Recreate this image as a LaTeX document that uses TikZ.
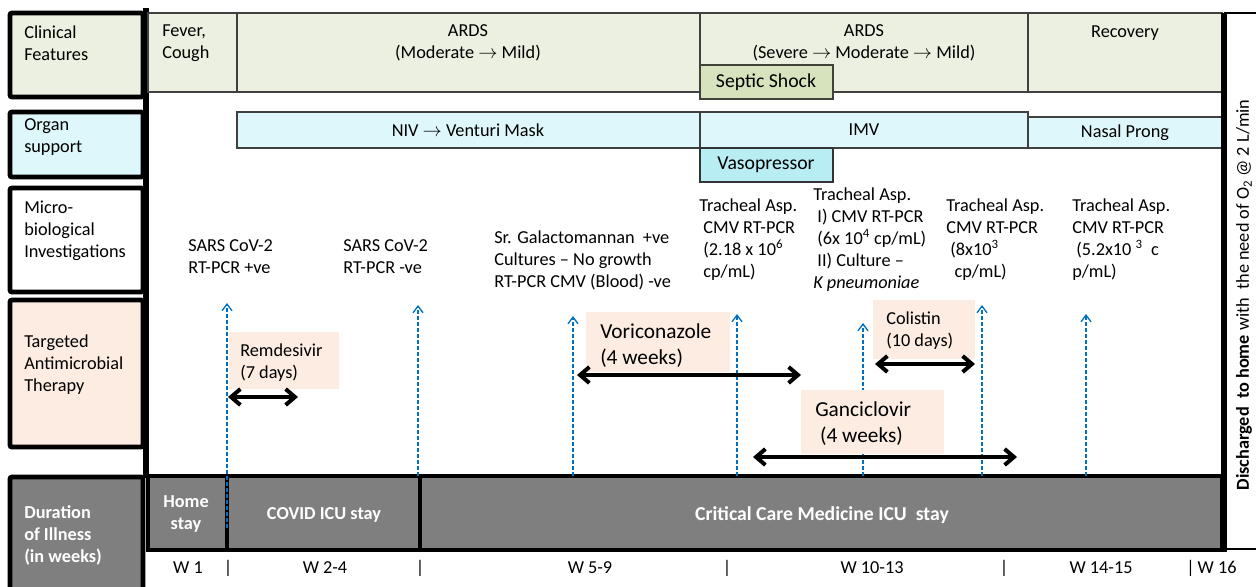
\documentclass[tikz,border=0pt]{standalone}
\usepackage{fontspec}
\setmainfont{Carlito}
\usetikzlibrary{arrows.meta,positioning}
\definecolor{featuregreen}{RGB}{235,240,224}
\definecolor{shockgreen}{RGB}{214,227,188}
\definecolor{supportcyan}{RGB}{222,247,250}
\definecolor{pressorcyan}{RGB}{184,237,243}
\definecolor{therapypeach}{RGB}{252,236,226}
\definecolor{staygray}{RGB}{127,127,127}
\definecolor{sampleblue}{RGB}{0,112,192}
\newcommand{\bodyfont}{\fontsize{13.7}{16.5}\selectfont}
\newcommand{\bigfont}{\fontsize{16}{18.8}\selectfont}
\newcommand{\tagfont}{\fontsize{14.8}{17}\selectfont}

\begin{document}
\begin{tikzpicture}[x=0.75pt,y=-0.75pt,
  headbox/.style={draw=black,line width=3.6pt,rounded corners=1.5pt},
  cellbox/.style={draw=black!75,line width=1.1pt},
  txt/.style={inner sep=0pt,align=left,font=\bodyfont,anchor=base west},
  ctxt/.style={inner sep=0pt,align=center,font=\bodyfont},
  wtxt/.style={txt,text=white,font=\bodyfont\bfseries},
  sampleline/.style={sampleblue,line width=1pt,dash pattern=on 3pt off 1.5pt,
    -{Straight Barb[length=5pt,width=7.5pt,line width=1pt]}},
  course/.style={line width=3pt,
    {Straight Barb[length=7pt,width=12pt]}-{Straight Barb[length=7pt,width=12pt]}},
  drugbox/.style={fill=therapypeach}]
\useasboundingbox (0,0) rectangle (1256,586);
% Kolumna z nazwami wierszy (kotwica: linia bazowa ostatniego wiersza)
\filldraw[headbox,fill=featuregreen] (10,13) rectangle (143,97);
\filldraw[headbox,fill=supportcyan] (10,112) rectangle (143,177);
\filldraw[headbox,fill=white] (10,188) rectangle (143,292);
\filldraw[headbox,fill=therapypeach] (10,300) rectangle (143,447);
\filldraw[headbox,fill=staygray] (10,477) rectangle (143,600);
\draw[line width=4pt] (146,8) -- (146,478);
\node[txt] (hclin) at (24,60) {Clinical\\Features};
\node[txt] (horgan) at (24,152) {Organ\\support};
\node[txt] (hmicro) at (24,257) {Micro-\\biological\\Investigations};
\node[txt] (htarget) at (24,391) {Targeted\\Antimicrobial\\Therapy};
\node[wtxt] (hweeks) at (24,562) {Duration\\of Illness\\(in weeks)};
% Objawy kliniczne
\filldraw[cellbox,fill=featuregreen] (148,13) rectangle (237,92);
\filldraw[cellbox,fill=featuregreen] (237,13) rectangle (700,92);
\filldraw[cellbox,fill=featuregreen] (700,13) rectangle (1028,92);
\filldraw[cellbox,fill=featuregreen] (1028,13) rectangle (1222,92);
\filldraw[fill=shockgreen,draw=black!70!shockgreen,line width=1.6pt] (700,65) rectangle (833,99);
\node[txt] (fever) at (162,58) {Fever,\\Cough};
\node[ctxt,anchor=base] (ards1) at (468,58) {ARDS\\(Moderate $\rightarrow$ Mild)};
\node[ctxt,anchor=base] (ards2) at (864,58) {ARDS\\(Severe $\rightarrow$ Moderate $\rightarrow$ Mild)};
\node[ctxt,anchor=base] (recov) at (1125,37) {Recovery};
\node[ctxt,font=\tagfont] (shock) at (766,82) {Septic Shock};
% Wsparcie narządowe
\filldraw[cellbox,fill=supportcyan] (237,112) rectangle (700,148);
\filldraw[cellbox,fill=supportcyan] (700,112) rectangle (1028,148);
\filldraw[cellbox,fill=supportcyan] (1028,117) rectangle (1222,148);
\filldraw[fill=pressorcyan,draw=black!80,line width=1.6pt] (700,148) rectangle (833,182);
\node[ctxt] (niv) at (468,130) {NIV $\rightarrow$ Venturi Mask};
\node[ctxt] (imv) at (864,130) {IMV};
\node[ctxt] (nasal) at (1125,133) {Nasal Prong};
\node[ctxt,font=\tagfont] (pressor) at (766,165) {Vasopressor};
% Badania mikrobiologiczne
\node[txt] (sarspos) at (188,273) {SARS CoV-2\\RT-PCR +ve};
\node[txt] (sarsneg) at (343,273) {SARS CoV-2\\RT-PCR -ve};
\node[txt] (galacto) at (494,287) {Sr. Galactomannan\ \ +ve\\Cultures -- No growth\\RT-PCR CMV (Blood) -ve};
\node[txt] (trachA) at (699,277) {Tracheal Asp.\\\ CMV RT-PCR\\\ (2.18 x 10\textsuperscript{6}\\\ cp/mL)};
\node[txt] (trachB) at (813,288) {Tracheal Asp.\\\ I) CMV RT-PCR\\\ (6x 10\textsuperscript{4} cp/mL)\\\ II) Culture --\\\textit{K pneumoniae}};
\node[txt] (trachC) at (946,277) {Tracheal Asp.\\CMV RT-PCR\\\ (8x10\textsuperscript{3}\\\ \ cp/mL)};
\node[txt] (trachD) at (1072,277) {Tracheal Asp.\\CMV RT-PCR\\\ (5.2x10 \textsuperscript{3}\ \ c\\p/mL)};
% Czas pobytu
\filldraw[fill=staygray,draw=black,line width=3.6pt] (148,476) rectangle (1222,550);
\draw[line width=2.6pt] (227,476) -- (227,550);
\draw[line width=3.4pt] (420,476) -- (420,550);
\node[ctxt,text=white,font=\bodyfont\bfseries] (home) at (186,514) {Home\\stay};
\node[ctxt,text=white,font=\bodyfont\bfseries] (covid) at (324,515) {COVID ICU stay};
\node[ctxt,text=white,font=\tagfont\bfseries] (ccm) at (822,515) {Critical Care Medicine ICU\ \ stay};
\draw[line width=4pt] (1224,13) -- (1224,552);
\draw[line width=0.8pt] (1224,13) -- (1256,13);
\draw[line width=0.8pt] (1224,549) -- (1256,549);
% Punkty pobrania próbek
\foreach \n/\x/\yb/\yt in {1/227/528/303,2/418/476/305,3/573/476/316,4/737/476/314,
  5/863/476/323,6/982/476/305,7/1086/476/314}{
  \coordinate (s\n b) at (\x,\yb);
  \coordinate (s\n t) at (\x,\yt);
}
\foreach \n in {1,...,7}
  \draw[sampleline] (s\n b) -- (s\n t);
% Leczenie celowane
\fill[drugbox] (229,332) rectangle (339,389);
\fill[drugbox] (586,312) rectangle (730,372);
\fill[drugbox] (873,300) rectangle (975,359);
\fill[drugbox] (801,390) rectangle (944,454);
\node[txt] (remd) at (240,378) {Remdesivir\\(7 days)};
\node[txt,font=\bigfont] (vori) at (600,364) {Voriconazole\\(4 weeks)};
\node[txt] (coli) at (886,346) {Colistin\\(10 days)};
\node[txt,font=\bigfont] (ganc) at (815,442) {Ganciclovir\\\ (4 weeks)};
\coordinate (remdL) at (228,397);  \coordinate (remdR) at (298,397);
\coordinate (voriL) at (577,375);  \coordinate (voriR) at (801,375);
\coordinate (coliL) at (875,364);  \coordinate (coliR) at (975,364);
\coordinate (gancL) at (753,457);  \coordinate (gancR) at (1017,457);
\draw[course] (remdL) -- (remdR);
\draw[course] (voriL) -- (voriR);
\draw[course] (coliL) -- (coliR);
\draw[course] (gancL) -- (gancR);
% Tygodnie choroby
\node[ctxt] (w1) at (188,568) {W 1};
\node[ctxt] (bar1) at (228,568) {|};
\node[ctxt] (w2) at (325,568) {W 2-4};
\node[ctxt] (bar2) at (420,568) {|};
\node[ctxt] (w5) at (590,568) {W 5-9};
\node[ctxt] (bar3) at (727,568) {|};
\node[ctxt] (w10) at (872,568) {W 10-13};
\node[ctxt] (bar4) at (1004,568) {|};
\node[ctxt] (w14) at (1101,568) {W 14-15};
\node[ctxt,anchor=west] (w16) at (1186,568) {|\,W 16};
\node[ctxt,rotate=90] (discharge) at (1244,295)
  {\textbf{Discharged\ \ to home} with\ \ the need of O\textsubscript{2} @ 2 L/min};
\end{tikzpicture}
\end{document}
